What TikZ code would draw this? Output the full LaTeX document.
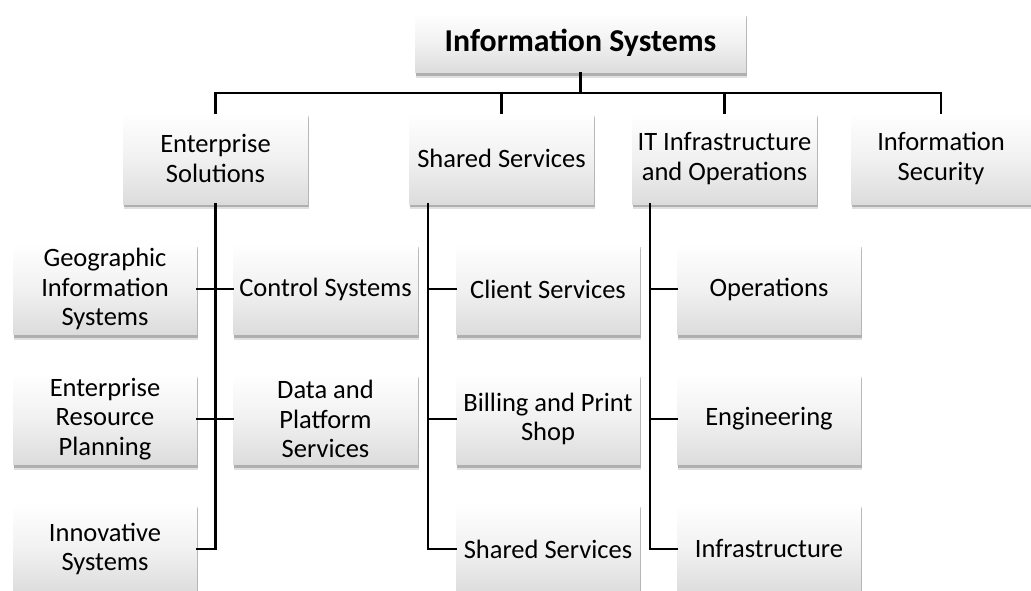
\documentclass[tikz,border=0pt]{standalone}
\usepackage{fontspec}
\setmainfont{Carlito}
\usetikzlibrary{shadows}
\definecolor{boxgray}{HTML}{DCDCDC}
\tikzset{
  box/.style={minimum width=185pt, minimum height=91pt, inner sep=0pt, align=center,
    top color=white, bottom color=boxgray, middle color=white!60!boxgray,
    drop shadow={shadow xshift=1pt, shadow yshift=-5pt, fill=black, opacity=0.12},
    drop shadow={shadow xshift=0.5pt, shadow yshift=-3pt, fill=black, opacity=0.22},
    font=\fontsize{26.5}{29.5}\selectfont},
  topbox/.style={box, minimum width=331pt, minimum height=60pt, font=\fontsize{31.8}{36}\selectfont\bfseries},
  link/.style={line width=2.6pt, line cap=rect},
}
\begin{document}
\begin{tikzpicture}[x=1pt,y=-1pt]
\useasboundingbox (0,0) rectangle (1031,591);
\clip (0,0) rectangle (1031,591);
% top
\node[topbox] (top) at (580.5,43) {Information Systems};
% level 2
\node[box] (es) at (215.5,158.5) {Enterprise\\Solutions};
\node[box] (ss) at (501.5,158.5) {Shared Services};
\node[box] (it) at (724.5,158.5) {IT Infrastructure\\and Operations};
\node[box, minimum width=180pt] (is) at (941,158.5) {Information\\Security};
% left column
\node[box, minimum width=184pt] (gis) at (105,289) {Geographic\\Information\\Systems};
\node[box] (cs) at (325.5,289) {Control Systems};
\node[box, minimum width=184pt] (erp) at (105,419) {Enterprise\\Resource\\Planning};
\node[box] (dps) at (325.5,419) {Data and\\Platform\\Services};
\node[box, minimum width=184pt] (inn) at (105,549) {Innovative\\Systems};
% middle column
\node[box, minimum width=184pt] (cli) at (548,289) {Client Services};
\node[box, minimum width=184pt] (bil) at (548,419) {Billing and Print\\Shop};
\node[box, minimum width=184pt] (sh2) at (548,549) {Shared Services};
% right column
\node[box, minimum width=184pt] (ops) at (769,289) {Operations};
\node[box, minimum width=184pt] (eng) at (769,419) {Engineering};
\node[box, minimum width=184pt] (inf) at (769,549) {Infrastructure};
% bus
\coordinate (busy) at (0,93);
\draw[link] (top.south) -- (top.south |- busy);
\draw[link] (es.north) |- (is.north |- busy) -- (is.north);
\draw[link] (ss.north) -- (ss.north |- busy);
\draw[link] (it.north) -- (it.north |- busy);
% left column
\draw[link] (es.south) -- (es.south |- inn.east) -- (inn.east);
\draw[link] (gis.east) -- (cs.west);
\draw[link] (erp.east) -- (dps.west);
% middle column
\coordinate (sv) at ([xshift=19pt]ss.south west);
\draw[link] (sv) |- (sh2.west);
\draw[link] (sv |- cli.west) -- (cli.west);
\draw[link] (sv |- bil.west) -- (bil.west);
% right column
\coordinate (iv) at ([xshift=18pt]it.south west);
\draw[link] (iv) |- (inf.west);
\draw[link] (iv |- ops.west) -- (ops.west);
\draw[link] (iv |- eng.west) -- (eng.west);
\end{tikzpicture}
\end{document}
